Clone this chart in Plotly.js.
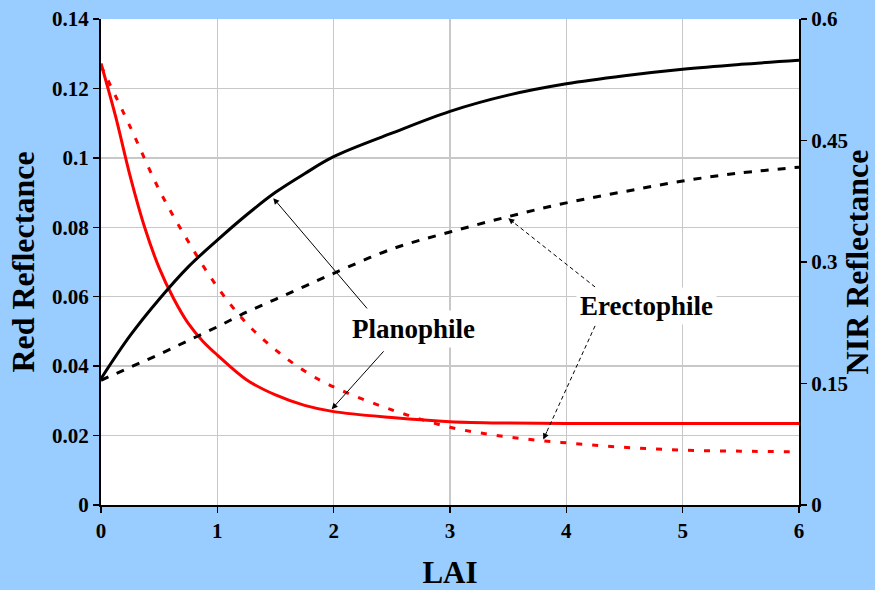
<!DOCTYPE html>
<html>
<head>
<meta charset="utf-8">
<script src="https://cdn.plot.ly/plotly-3.0.1.min.js"></script>
<style>html,body{margin:0;padding:0;background:#99CCFF;}#chart{width:875px;height:590px;}</style>
</head>
<body>
<div id="chart"></div>
<script>
// LAI sample points
const lai = [0, 0.25, 0.5, 0.75, 1, 1.25, 1.5, 1.75, 2, 2.5, 3, 3.5, 4, 4.5, 5, 5.5, 6];
const laiFine = [0, 0.125, 0.25, 0.375, 0.5, 0.625, 0.75, 0.875, 1, 1.25, 1.5, 1.75, 2, 2.5, 3, 3.5, 4, 4.5, 5, 5.5, 6];

// Red reflectance (left axis)
const redPlanophile  = [0.1272, 0.1120, 0.0948, 0.0800, 0.0683, 0.0594, 0.0523, 0.0472, 0.0432, 0.0361, 0.0317, 0.0287, 0.0269, 0.0252, 0.0240, 0.0236, 0.0235, 0.0235, 0.0235, 0.0235, 0.0235];
const redErectophile = [0.1265, 0.1090, 0.0908, 0.0759, 0.0628, 0.0524, 0.0447, 0.0386, 0.0340, 0.0274, 0.0224, 0.0196, 0.0179, 0.0166, 0.0158, 0.0155, 0.0153];

// NIR reflectance (right axis)
const nirPlanophile  = [0.156, 0.209, 0.254, 0.294, 0.327, 0.358, 0.386, 0.409, 0.430, 0.459, 0.486, 0.506, 0.520, 0.530, 0.538, 0.544, 0.549];
const nirErectophile = [0.154, 0.170, 0.186, 0.203, 0.220, 0.238, 0.254, 0.270, 0.286, 0.316, 0.337, 0.356, 0.373, 0.387, 0.400, 0.410, 0.417];

const redTicks = [0, 0.02, 0.04, 0.06, 0.08, 0.1, 0.12, 0.14];
const redTickText = ['0', '0.02', '0.04', '0.06', '0.08', '0.1', '0.12', '0.14'];
const nirTicks = [0, 0.15, 0.3, 0.45, 0.6];
const nirTickText = ['0', '0.15', '0.3', '0.45', '0.6'];
const laiTicks = [0, 1, 2, 3, 4, 5, 6];

const FONT = 'Liberation Serif, Times New Roman, serif';

const traces = [
  {x: lai, y: nirPlanophile, yaxis: 'y2', mode: 'lines', line: {color: '#000000', width: 3, shape: 'spline', smoothing: 1}},
  {x: lai, y: nirErectophile, yaxis: 'y2', mode: 'lines', line: {color: '#000000', width: 3, dash: '8px,9px', shape: 'spline', smoothing: 1}},
  {x: lai, y: redErectophile, yaxis: 'y', mode: 'lines', line: {color: '#FF0000', width: 3, dash: '6px,10px', shape: 'spline', smoothing: 1}},
  {x: laiFine, y: redPlanophile, yaxis: 'y', mode: 'lines', line: {color: '#FF0000', width: 3, shape: 'spline', smoothing: 1}}
];

const dashedArrows = [
  {tail: [4.247, 0.0628], tip: [3.501, 0.0826]},
  {tail: [4.247, 0.0516], tip: [3.802, 0.0189]}
];

const shapes = dashedArrows.map(a => ({
  type: 'line', xref: 'x', yref: 'y',
  x0: a.tail[0], y0: a.tail[1], x1: a.tip[0], y1: a.tip[1],
  line: {color: '#000000', width: 1, dash: '4px,3px'}
}));

const annotations = [
  {x: 2.682, y: 0.0507, xref: 'x', yref: 'y', text: 'Planophile', showarrow: false,
   bgcolor: '#FFFFFF', borderpad: 3, font: {family: FONT, size: 27, color: '#000', weight: 'bold'}},
  {x: 4.685, y: 0.0573, xref: 'x', yref: 'y', text: 'Erectophile', showarrow: false,
   bgcolor: '#FFFFFF', borderpad: 3, font: {family: FONT, size: 27, color: '#000', weight: 'bold'}},
  {x: 1.481, y: 0.0884, ax: 2.298, ay: 0.0562, xref: 'x', yref: 'y', axref: 'x', ayref: 'y',
   text: '', showarrow: true, arrowhead: 2, arrowsize: 1.2, arrowwidth: 1, arrowcolor: '#000'},
  {x: 1.983, y: 0.0276, ax: 2.441, ay: 0.0447, xref: 'x', yref: 'y', axref: 'x', ayref: 'y',
   text: '', showarrow: true, arrowhead: 2, arrowsize: 1.2, arrowwidth: 1, arrowcolor: '#000'}
];
dashedArrows.forEach(a => {
  const dx = a.tail[0] - a.tip[0], dy = a.tail[1] - a.tip[1];
  annotations.push({x: a.tip[0], y: a.tip[1], ax: a.tip[0] + dx * 0.08, ay: a.tip[1] + dy * 0.08,
    xref: 'x', yref: 'y', axref: 'x', ayref: 'y', text: '', showarrow: true,
    arrowhead: 2, arrowsize: 1.2, arrowwidth: 1, arrowcolor: '#000'});
});

const tickFont = {family: FONT, size: 21, color: '#000', weight: 'bold'};
const titleFont = {family: FONT, size: 32, color: '#000', weight: 'bold'};

const layout = {
  width: 875, height: 590,
  paper_bgcolor: '#99CCFF', plot_bgcolor: '#FFFFFF',
  margin: {l: 101, r: 76, t: 19, b: 85},
  showlegend: false,
  xaxis: {
    range: [0, 6], tickvals: laiTicks, ticktext: laiTicks.map(String),
    showgrid: true, gridcolor: '#C8C8C8', gridwidth: 1.5, zeroline: false,
    showline: true, linecolor: '#000', linewidth: 2,
    ticks: 'outside', ticklen: 6, tickcolor: '#000', tickwidth: 1.5,
    tickfont: tickFont,
    title: {text: 'LAI', font: {family: FONT, size: 31, color: '#000', weight: 'bold'}, standoff: 24}
  },
  yaxis: {
    range: [0, 0.14], tickvals: redTicks, ticktext: redTickText,
    showgrid: true, gridcolor: '#C8C8C8', gridwidth: 1.5, zeroline: false,
    showline: true, linecolor: '#000', linewidth: 2,
    ticks: 'outside', ticklen: 6, tickcolor: '#000', tickwidth: 1.5,
    tickfont: tickFont,
    title: {text: 'Red Reflectance', font: titleFont, standoff: 8}
  },
  yaxis2: {
    range: [0, 0.6], tickvals: nirTicks, ticktext: nirTickText,
    overlaying: 'y', side: 'right',
    showgrid: false, zeroline: false,
    showline: true, linecolor: '#000', linewidth: 2,
    ticks: 'outside', ticklen: 6, tickcolor: '#000', tickwidth: 1.5,
    tickfont: tickFont,
    title: {text: 'NIR Reflectance', font: titleFont, standoff: 4}
  },
  shapes: shapes,
  annotations: annotations
};

Plotly.newPlot('chart', traces, layout, {displayModeBar: false, staticPlot: true});
</script>
</body>
</html>
